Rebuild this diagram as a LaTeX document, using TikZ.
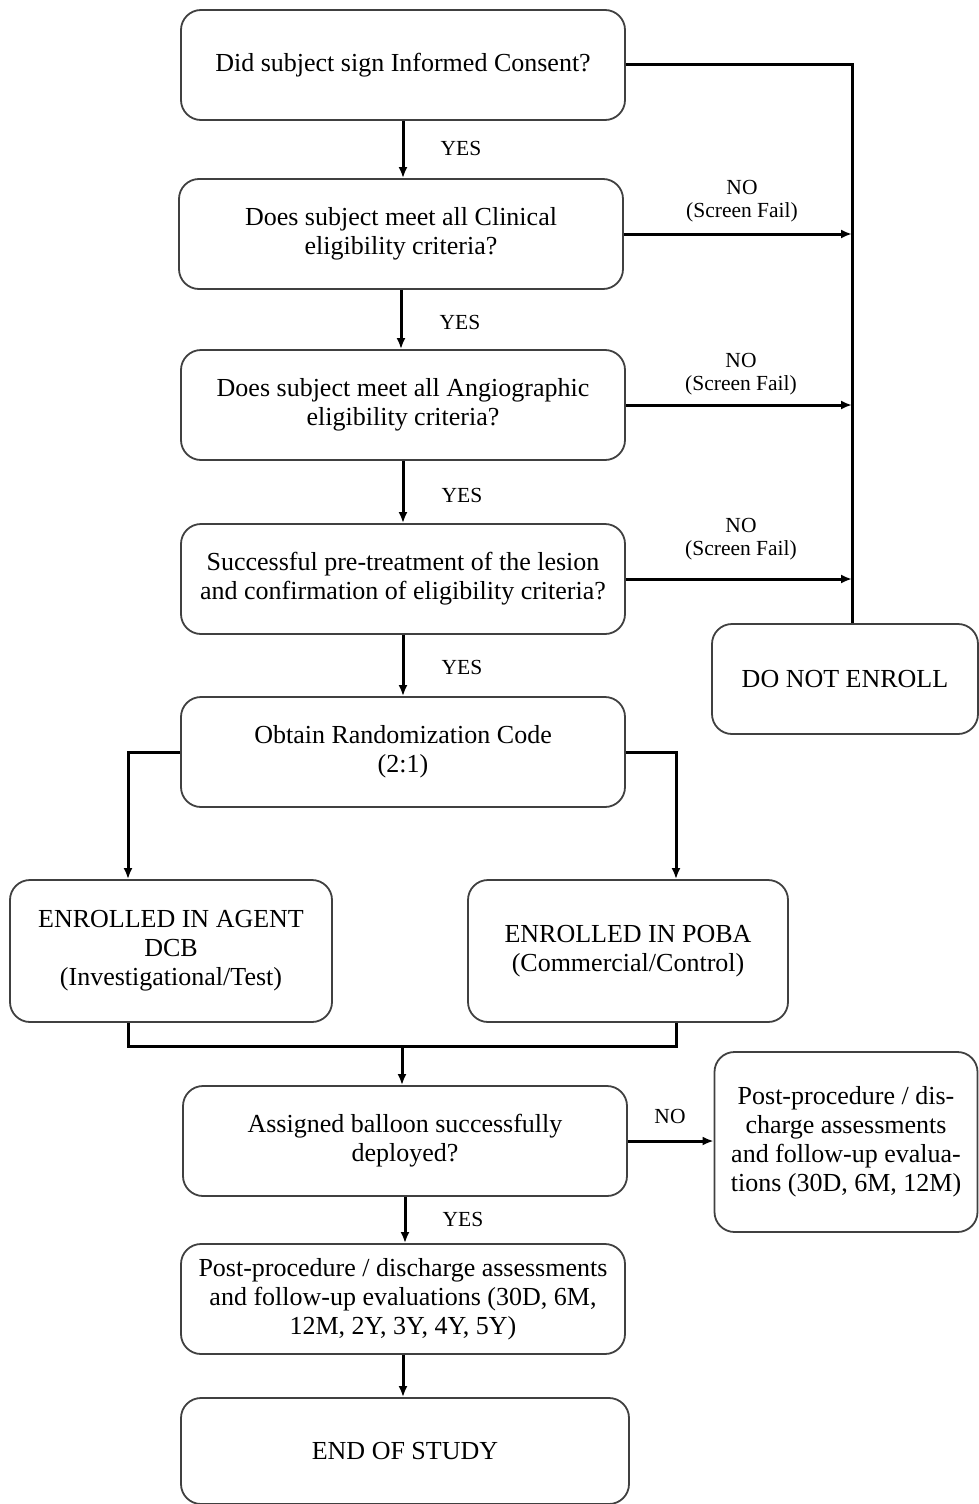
\documentclass[tikz,border=0pt]{standalone}
\usepackage{fontspec}
\setmainfont{Liberation Serif}
\usetikzlibrary{arrows.meta}
\begin{document}
\begin{tikzpicture}[x=1pt,y=-1pt,
  box/.style={draw=black!75, line width=1.8pt, rounded corners=20pt, align=center,
    inner sep=2pt, font=\fontsize{26}{29}\selectfont},
  lbl/.style={align=center, inner sep=0pt, font=\fontsize{21.5}{23}\selectfont},
  conn/.style={line width=3pt, black},
  arr/.style={conn, -{Latex[length=11pt,width=9pt]}}]
\useasboundingbox (0,0) rectangle (978,1504);
\node[box, minimum width=444pt, minimum height=110pt] (b1) at (403,65) {Did subject sign Informed Consent?};
\node[box, minimum width=444pt, minimum height=110pt] (b2) at (401,234) {Does subject meet all Clinical\\eligibility criteria?};
\node[box, minimum width=444pt, minimum height=110pt] (b3) at (403,405) {Does subject meet all Angiographic\\eligibility criteria?};
\node[box, minimum width=444pt, minimum height=110pt] (b4) at (403,579) {Successful pre-treatment of the lesion\\and confirmation of eligibility criteria?};
\node[box, minimum width=266pt, minimum height=110pt] (dne) at (845,679) {DO NOT ENROLL};
\node[box, minimum width=444pt, minimum height=110pt] (b5) at (403,752) {Obtain Randomization Code\\(2:1)};
\node[box, minimum width=322pt, minimum height=142pt] (b6) at (171,951) {ENROLLED IN AGENT\\DCB\\(Investigational/Test)};
\node[box, minimum width=320pt, minimum height=142pt] (b7) at (628,951) {ENROLLED IN POBA\\(Commercial/Control)};
\node[box, minimum width=444pt, minimum height=110pt] (b8) at (405,1141) {Assigned balloon successfully\\deployed?};
\node[box, minimum width=263pt, minimum height=180pt] (b9) at (846,1142) {Post-procedure / dis-\\charge assessments\\and follow-up evalua-\\tions (30D, 6M, 12M)};
\node[box, minimum width=444pt, minimum height=110pt] (b10) at (403,1299) {Post-procedure / discharge assessments\\and follow-up evaluations (30D, 6M,\\12M, 2Y, 3Y, 4Y, 5Y)};
\node[box, minimum width=448pt, minimum height=106pt] (b11) at (405,1451) {END OF STUDY};

\node[lbl] (y1) at (461,148) {YES};
\node[lbl] (y2) at (460,322) {YES};
\node[lbl] (y3) at (462,495) {YES};
\node[lbl] (y4) at (462,667) {YES};
\node[lbl] (y5) at (463,1219) {YES};
\node[lbl] (n1) at (742,201) {NO\\(Screen Fail)};
\node[lbl] (n2) at (741,374) {NO\\(Screen Fail)};
\node[lbl] (n3) at (741,539) {NO\\(Screen Fail)};
\node[lbl] (n4) at (670,1116) {NO};

\coordinate (busx) at (852,0);
\coordinate (lx) at (128,0);
\coordinate (rx) at (676,0);
\coordinate (mrg) at (402,1046);

\draw[arr] (b1.south) -- (b1.south |- b2.north);
\draw[arr] (b2.south) -- (b2.south |- b3.north);
\draw[arr] (b3.south) -- (b3.south |- b4.north);
\draw[arr] (b4.south) -- (b4.south |- b5.north);
\draw[conn] (b1.east) -- (b1.east -| busx) -- (busx |- dne.north);
\draw[arr] (b2.east) -- (b2.east -| busx);
\draw[arr] (b3.east) -- (b3.east -| busx);
\draw[arr] (b4.east) -- (b4.east -| busx);
\draw[arr] (b5.west) -| (b6.north -| lx);
\draw[arr] (b5.east) -| (b7.north -| rx);
\draw[conn] (b6.south -| lx) -- (lx |- mrg) -- (rx |- mrg) -- (b7.south -| rx);
\draw[arr] (mrg) -- (mrg |- b8.north);
\draw[arr] (b8.east) -- (b8.east -| b9.west);
\draw[arr] (b8.south) -- (b8.south |- b10.north);
\draw[arr] (b10.south) -- (b10.south |- b11.north);
\end{tikzpicture}
\end{document}
